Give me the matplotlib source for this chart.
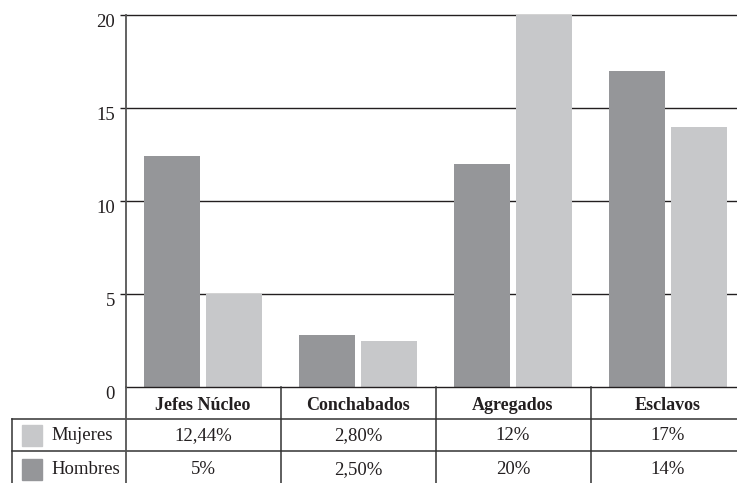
import matplotlib
matplotlib.use("Agg")
import matplotlib.pyplot as plt
import matplotlib.transforms as mtransforms
from matplotlib.patches import Rectangle
import numpy as np

categories = ["Jefes Núcleo", "Conchabados", "Agregados", "Esclavos"]
series_names = ["Mujeres", "Hombres"]
mujeres = [12.44, 2.80, 12, 17]
hombres = [5, 2.50, 20, 14]
y_ticks = [0, 5, 10, 15, 20]

DARK = "#959699"
LIGHT = "#c7c8ca"
INK = "#231f20"

plt.rcParams["font.family"] = ["Liberation Serif", "DejaVu Serif"]

W, H = 737, 483
fig = plt.figure(figsize=(W / 100, H / 100), dpi=100)

# pixel layout
ax_left_px = 125.5
col_px = 155.0
zero_px = 387.4          # y of the baseline, from the top
top20_px = 15.3          # y of the 20 line, from the top
unit_px = (zero_px - top20_px) / 20.0

left = ax_left_px / W
bottom = (H - zero_px) / H
ax = fig.add_axes([left, bottom, 1 - left, 1 - bottom])
x0 = -0.5
x1 = x0 + (W - ax_left_px) / col_px
ax.set_xlim(x0, x1)
ax.set_ylim(0, zero_px / unit_px)

x = np.arange(len(categories))
bw = 0.36
ax.bar(x - 0.2, mujeres, width=bw, color=DARK, zorder=3)
ax.bar(x + 0.2, hombres, width=bw, color=LIGHT, zorder=3)

# horizontal rules
for v in y_ticks:
    ax.axhline(v, color=INK, lw=1.0, zorder=4 if v == 0 else 2, clip_on=False)

for s in ["top", "right", "bottom", "left"]:
    ax.spines[s].set_visible(False)
ax.set_xticks([])
ax.set_yticks(y_ticks)
ax.set_yticklabels([str(v) for v in y_ticks], fontsize=13.5, color=INK)
ax.tick_params(axis="y", length=4.5, width=1.0, color=INK, pad=3)
ax.yaxis.get_major_ticks()[0].tick1line.set_visible(False)
shift = mtransforms.ScaledTranslation(0, -5 / 100, fig.dpi_scale_trans)
for lbl in ax.get_yticklabels():
    lbl.set_transform(lbl.get_transform() + shift)

# table below the chart, sharing the category positions
tax = fig.add_axes([left, 0, 1 - left, bottom], sharex=ax)
tax.set_ylim(0, H - zero_px)
tax.axis("off")
tax.set_xlim(x0, x1)

def px_to_x(px):
    return x0 + (px - ax_left_px) / col_px

tab_h = H - zero_px
line1 = tab_h - (418.6 - zero_px)
line2 = tab_h - (451.3 - zero_px)
row_centers = [(tab_h + line1) / 2 - 3, (line1 + line2) / 2 - 0.5, line2 / 2 - 2]

kw = dict(color="#333333", lw=1.1, clip_on=False)
tl = px_to_x(12)
tax.plot([tl, x1], [line1, line1], **kw)
tax.plot([tl, x1], [line2, line2], **kw)
tax.plot([tl, tl], [0, line1], **kw)
# axis line runs from the 20 rule down through the table
ax.plot([x0, x0], [0, 20], color="#555555", lw=1.3, clip_on=False, zorder=5)
tax.plot([x0, x0], [0, tab_h], color="#555555", lw=1.3, clip_on=False)
for i in range(1, len(categories)):
    tax.plot([i - 0.5, i - 0.5], [0, tab_h], **kw)

for i, c in enumerate(categories):
    tax.text(i, row_centers[0], c, ha="center", va="center", fontsize=13,
             fontweight="bold", color=INK)

def fmt(v):
    if float(v).is_integer():
        return f"{int(v)}%"
    return f"{v:.2f}".replace(".", ",") + "%"

swatch_colors = [LIGHT, DARK]
for r, (name, vals) in enumerate(zip(series_names, [mujeres, hombres])):
    yc = row_centers[r + 1]
    sx = px_to_x(22)
    sw = px_to_x(42) - sx
    tax.add_patch(Rectangle((sx, yc - 10.5), sw, 21, color=swatch_colors[r],
                            clip_on=False))
    tax.text(px_to_x(51), yc, name, ha="left", va="center", fontsize=13.5,
             color=INK)
    for i, v in enumerate(vals):
        tax.text(i, yc, fmt(v), ha="center", va="center", fontsize=13.5,
                 color=INK)

fig.savefig("out.png", dpi=100)
